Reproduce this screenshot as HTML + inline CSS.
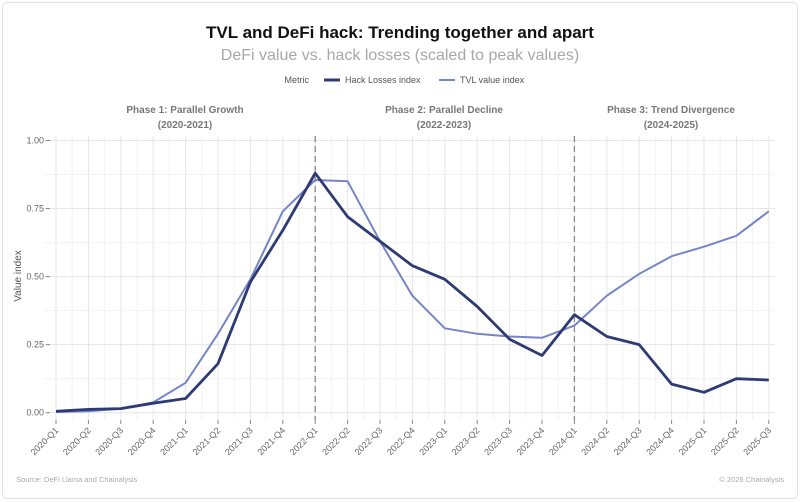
<!DOCTYPE html>
<html><head><meta charset="utf-8"><style>
body{margin:0;background:#fff;}
svg{display:block;font-family:"Liberation Sans",sans-serif;}
</style></head><body>
<svg id="s" width="800" height="502" viewBox="0 0 800 502" xmlns="http://www.w3.org/2000/svg">
<rect x="2.5" y="2.5" width="795" height="496" rx="4" fill="#fff" stroke="#e2e2e2"/>
<text x="400" y="38" text-anchor="middle" font-size="17" font-weight="bold" fill="#111">TVL and DeFi hack: Trending together and apart</text>
<text x="400" y="60" text-anchor="middle" font-size="16" fill="#a8a8a8">DeFi value vs. hack losses (scaled to peak values)</text>
<text x="309" y="83" text-anchor="end" font-size="9" fill="#555">Metric</text>
<line x1="324" y1="80" x2="340" y2="80" stroke="#2e3a74" stroke-width="3"/>
<text x="345" y="83" font-size="9" fill="#555">Hack Losses index</text>
<line x1="439" y1="80" x2="455" y2="80" stroke="#7585c6" stroke-width="2"/>
<text x="460" y="83" font-size="9" fill="#555">TVL value index</text>
<g font-size="10" font-weight="bold" fill="#777" text-anchor="middle">
<text x="185" y="113">Phase 1: Parallel Growth</text><text x="185" y="128">(2020-2021)</text>
<text x="444" y="113">Phase 2: Parallel Decline</text><text x="444" y="128">(2022-2023)</text>
<text x="671" y="113">Phase 3: Trend Divergence</text><text x="671" y="128">(2024-2025)</text>
</g>
<g id="grid"></g>
<line x1="315.2" y1="136" x2="315.2" y2="420" stroke="#888" stroke-width="1.3" stroke-dasharray="6,4"/>
<line x1="574.4" y1="136" x2="574.4" y2="420" stroke="#888" stroke-width="1.3" stroke-dasharray="6,4"/>
<text transform="translate(21,276) rotate(-90)" text-anchor="middle" font-size="10" fill="#555">Value index</text>
<polyline id="tvl" fill="none" stroke="#7585c6" stroke-width="2" stroke-linejoin="round"/>
<polyline id="hack" fill="none" stroke="#2e3a74" stroke-width="2.8" stroke-linejoin="round"/>
<g id="lab" font-size="9" fill="#666"></g>
<text x="16" y="482" font-size="7.5" fill="#aaa">Source: DeFi Llama and Chainalysis</text>
<text x="784" y="482" text-anchor="end" font-size="7.5" fill="#aaa">© 2026 Chainalysis</text>
</svg>
<script>
var X0=56,DX=32.4,Y0=412.7,SC=272.2,ns="http://www.w3.org/2000/svg";
function el(t,a,p,txt){var e=document.createElementNS(ns,t);for(var k in a)e.setAttribute(k,a[k]);if(txt)e.textContent=txt;document.getElementById(p).appendChild(e);}
for(var i=0;i<23;i++){var x=X0+i*DX;el("line",{x1:x,y1:136,x2:x,y2:420,stroke:"#e6e6e6","stroke-width":1},"grid");
 if(i<22)el("line",{x1:x+DX/2,y1:136,x2:x+DX/2,y2:420,stroke:"#f2f2f2","stroke-width":1},"grid");
 el("line",{x1:x,y1:420,x2:x,y2:424,stroke:"#888"},"grid");}
[0,0.25,0.5,0.75,1].forEach(function(v){var y=Y0-v*SC;el("line",{x1:44,y1:y,x2:775,y2:y,stroke:"#e6e6e6"},"grid");
 if(v<1)el("line",{x1:44,y1:y-SC/8,x2:775,y2:y-SC/8,stroke:"#f2f2f2"},"grid");
 el("line",{x1:46,y1:y,x2:50,y2:y,stroke:"#888"},"grid");
 el("text",{x:44,y:y+3,"text-anchor":"end"},"lab",v.toFixed(2));});
var q=[];for(var yr=2020;yr<=2025;yr++)for(var k=1;k<=4;k++)q.push(yr+"-Q"+k);q=q.slice(0,23);
q.forEach(function(s,i){var x=X0+i*DX;el("text",{x:x+3,y:431,"text-anchor":"end",transform:"rotate(-45 "+(x+3)+" 431)"},"lab",s);});
var hack=[0.005,0.012,0.015,0.035,0.052,0.18,0.48,0.67,0.88,0.72,0.63,0.54,0.49,0.39,0.27,0.21,0.36,0.28,0.25,0.105,0.075,0.125,0.12];
var tvl=[0.003,0.005,0.015,0.038,0.11,0.29,0.49,0.74,0.855,0.85,0.63,0.43,0.31,0.29,0.28,0.275,0.32,0.43,0.51,0.575,0.61,0.65,0.74];
function pts(a){return a.map(function(v,i){return (X0+i*DX).toFixed(1)+","+(Y0-v*SC).toFixed(1);}).join(" ");}
document.getElementById("hack").setAttribute("points",pts(hack));
document.getElementById("tvl").setAttribute("points",pts(tvl));
</script>
</body></html>
